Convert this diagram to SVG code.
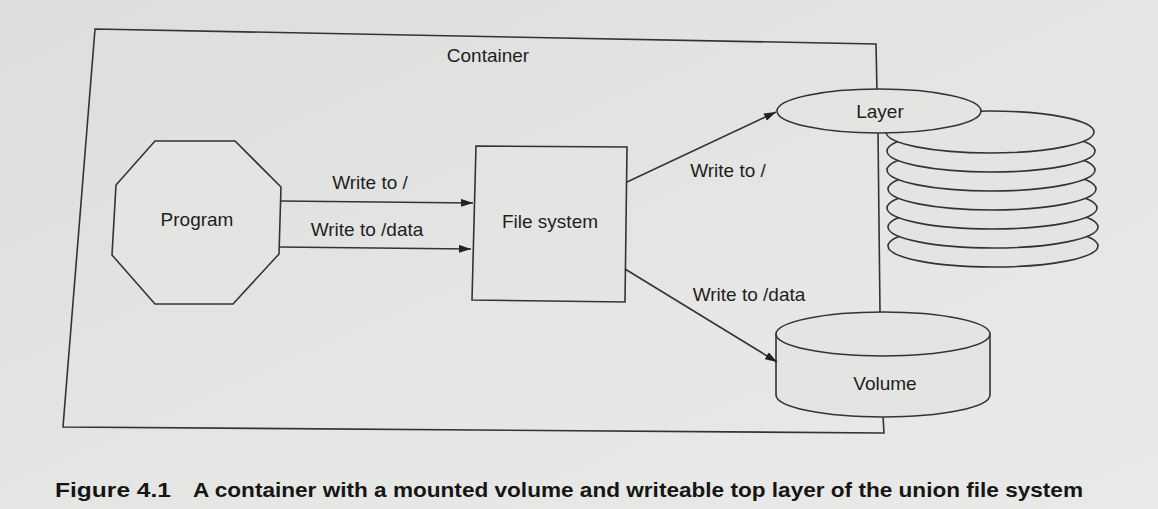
<svg xmlns="http://www.w3.org/2000/svg" width="1158" height="509" viewBox="0 0 1158 509">
<style>
.ln{fill:none;stroke:#333;stroke-width:1.6}
.sh{fill:#e4e5e3;stroke:#333;stroke-width:1.6}
.t{font-family:"Liberation Sans",Arial,sans-serif;font-size:19px;fill:#1e1e1e;text-anchor:middle}
.cap{font-family:"Liberation Sans",Arial,sans-serif;font-size:21px;font-weight:bold;fill:#151515}
</style>
<defs>
<linearGradient id="bg" x1="0" y1="0" x2="1" y2="1">
<stop offset="0" stop-color="#dcdedc"/>
<stop offset="0.6" stop-color="#e6e7e5"/>
<stop offset="1" stop-color="#e9e9e8"/>
</linearGradient>
<marker id="ah" markerWidth="12" markerHeight="8" refX="12" refY="4" orient="auto" markerUnits="userSpaceOnUse">
<path d="M0,0 L12,4 L0,8 Z" fill="#222"/>
</marker>
</defs>
<rect width="1158" height="509" fill="url(#bg)"/>

<g id="container">
<path class="ln" d="M877,93 L876,44 L95,29 L63,427 L884,433 L883,416"/>
<path class="ln" d="M878,133 L880,312"/>
<text class="t" x="488" y="62">Container</text>
</g>

<g id="program">
<polygon class="sh" points="155,141 235,141 281,187 279,254 233,304 155,304 112,255 116,185"/>
<text class="t" x="197" y="226">Program</text>
</g>

<g id="filesystem">
<polygon class="sh" points="476,146 627,147 625,302 472,300"/>
<text class="t" x="550" y="228">File system</text>
</g>

<g id="layers">
<ellipse class="sh" cx="993" cy="246" rx="105" ry="21"/>
<ellipse class="sh" cx="993" cy="227" rx="105" ry="21"/>
<ellipse class="sh" cx="992" cy="208" rx="105" ry="21"/>
<ellipse class="sh" cx="992" cy="189" rx="104" ry="21"/>
<ellipse class="sh" cx="991" cy="170" rx="104" ry="21"/>
<ellipse class="sh" cx="991" cy="151" rx="104" ry="21"/>
<ellipse class="sh" cx="990" cy="132" rx="104" ry="21"/>
</g>

<g id="layer">
<ellipse class="sh" cx="879" cy="111" rx="102" ry="22"/>
<text class="t" x="880" y="118">Layer</text>
</g>

<g id="volume">
<path class="sh" d="M776,334 L776,395 A107,22 0 0 0 990,395 L990,334"/>
<ellipse class="sh" cx="883" cy="334" rx="107" ry="22"/>
<text class="t" x="885" y="390">Volume</text>
</g>

<g id="connectors">
<line class="ln" x1="281" y1="201" x2="473" y2="203" marker-end="url(#ah)"/>
<line class="ln" x1="279" y1="247" x2="471" y2="249" marker-end="url(#ah)"/>
<line class="ln" x1="627" y1="182" x2="776" y2="112" marker-end="url(#ah)"/>
<line class="ln" x1="625" y1="269" x2="777" y2="362" marker-end="url(#ah)"/>
<text class="t" x="370" y="189">Write to /</text>
<text class="t" x="367" y="236">Write to /data</text>
<text class="t" x="728" y="177">Write to /</text>
<text class="t" x="749" y="301">Write to /data</text>
</g>

<g id="caption">
<text class="cap" x="55" y="497" textLength="116" lengthAdjust="spacingAndGlyphs">Figure 4.1</text>
<text class="cap" x="193" y="497" textLength="890" lengthAdjust="spacingAndGlyphs">A container with a mounted volume and writeable top layer of the union file system</text>
</g>
</svg>
